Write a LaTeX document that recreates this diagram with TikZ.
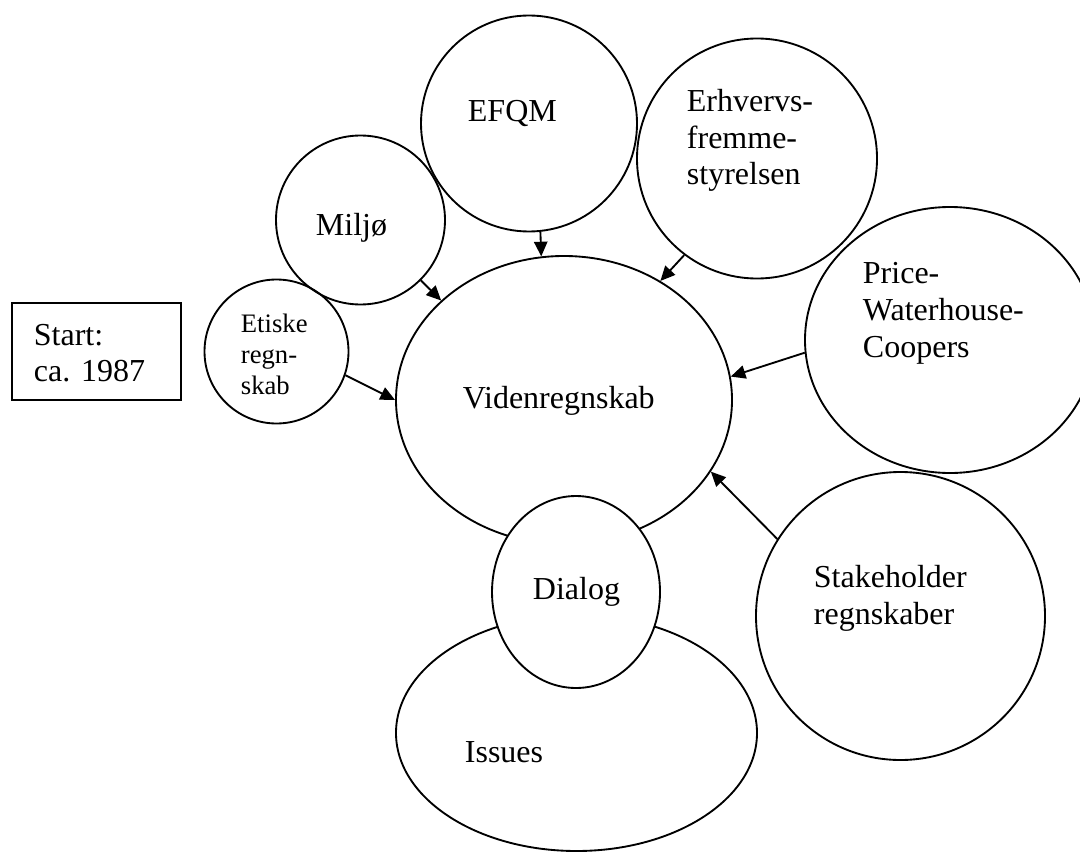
\documentclass[tikz,border=0pt]{standalone}
\usepackage{fontspec}
\setmainfont{Liberation Serif}
\usetikzlibrary{shapes.geometric,arrows.meta}
\begin{document}
\begin{tikzpicture}[x=0.75pt,y=-0.75pt,
  line width=1.4pt,
  blob/.style 2 args={ellipse, draw, inner sep=0pt,
    minimum width=#1*1.5pt, minimum height=#2*1.5pt},
  lbl/.style={anchor=base west, align=left, inner sep=0pt,
    font=\fontsize{24pt}{27.6pt}\selectfont},
  small/.style={anchor=base west, align=left, inner sep=0pt,
    font=\fontsize{20pt}{22.9pt}\selectfont},
  feed/.style={-{Triangle[length=11pt,width=10pt]}}]
\useasboundingbox (0,0) rectangle (1080,852);
\clip (0,0) rectangle (1080,852);

% starting point box (multi-line labels are placed by their last baseline)
\node[draw, inner sep=0pt, minimum width=169*0.75pt, minimum height=97*0.75pt]
  (startbox) at (96.5,351.5) {};
\node[lbl, font=\fontsize{24pt}{27pt}\selectfont] (starttext) at (33,381) {Start:\\ca. 1987};

% surrounding sources
\node[blob={72}{72}]     (etiske)  at (276.5,351.5) {};
\node[blob={84.5}{84.5}] (miljo)   at (360.5,220) {};
\node[blob={108}{108}]   (efqm)    at (529,123.5) {};
\node[blob={120}{120}]   (erhverv) at (757,158.5) {};
\node[blob={145}{133}]   (pwc)     at (950,340) {};
\node[blob={144.5}{144}] (stake)   at (900.5,616) {};

% central knowledge account and its dialog with issues
\node[blob={168}{144}]   (viden)   at (564,400) {};
\node[blob={180.5}{118}] (issues)  at (576.5,733) {};
\node[blob={84}{96}, fill=white] (dialog) at (576,592) {};

% labels
\node[small] (etisketext)  at (240,394) {Etiske\\regn-\\skab};
\node[lbl]   (miljotext)   at (315,235) {Miljø};
\node[lbl]   (efqmtext)    at (467,122) {EFQM};
\node[lbl]   (erhvervtext) at (686,185) {Erhvervs-\\fremme-\\styrelsen};
\node[lbl]   (pwctext)     at (862,357) {Price-\\Waterhouse-\\Coopers};
\node[lbl]   (videntext)   at (462,408) {Videnregnskab};
\node[lbl]   (staketext)   at (813,624) {Stakeholder\\regnskaber};
\node[lbl]   (dialogtext)  at (532,599) {Dialog};
\node[lbl]   (issuestext)  at (464,762) {Issues};

% influences feeding the knowledge account
\draw[feed] (etiske.-19)    -- (viden.180);
\draw[feed] (miljo.-45)     -- (viden.141);
\draw[feed] (efqm.-84.2)    -- (viden.99.4);
\draw[feed] (erhverv.233.5) -- (viden.51);
\draw[feed] (pwc.185)       -- (viden.8.4);
\draw[feed] (stake.148.8)   -- (viden.-26.6);
\end{tikzpicture}
\end{document}
